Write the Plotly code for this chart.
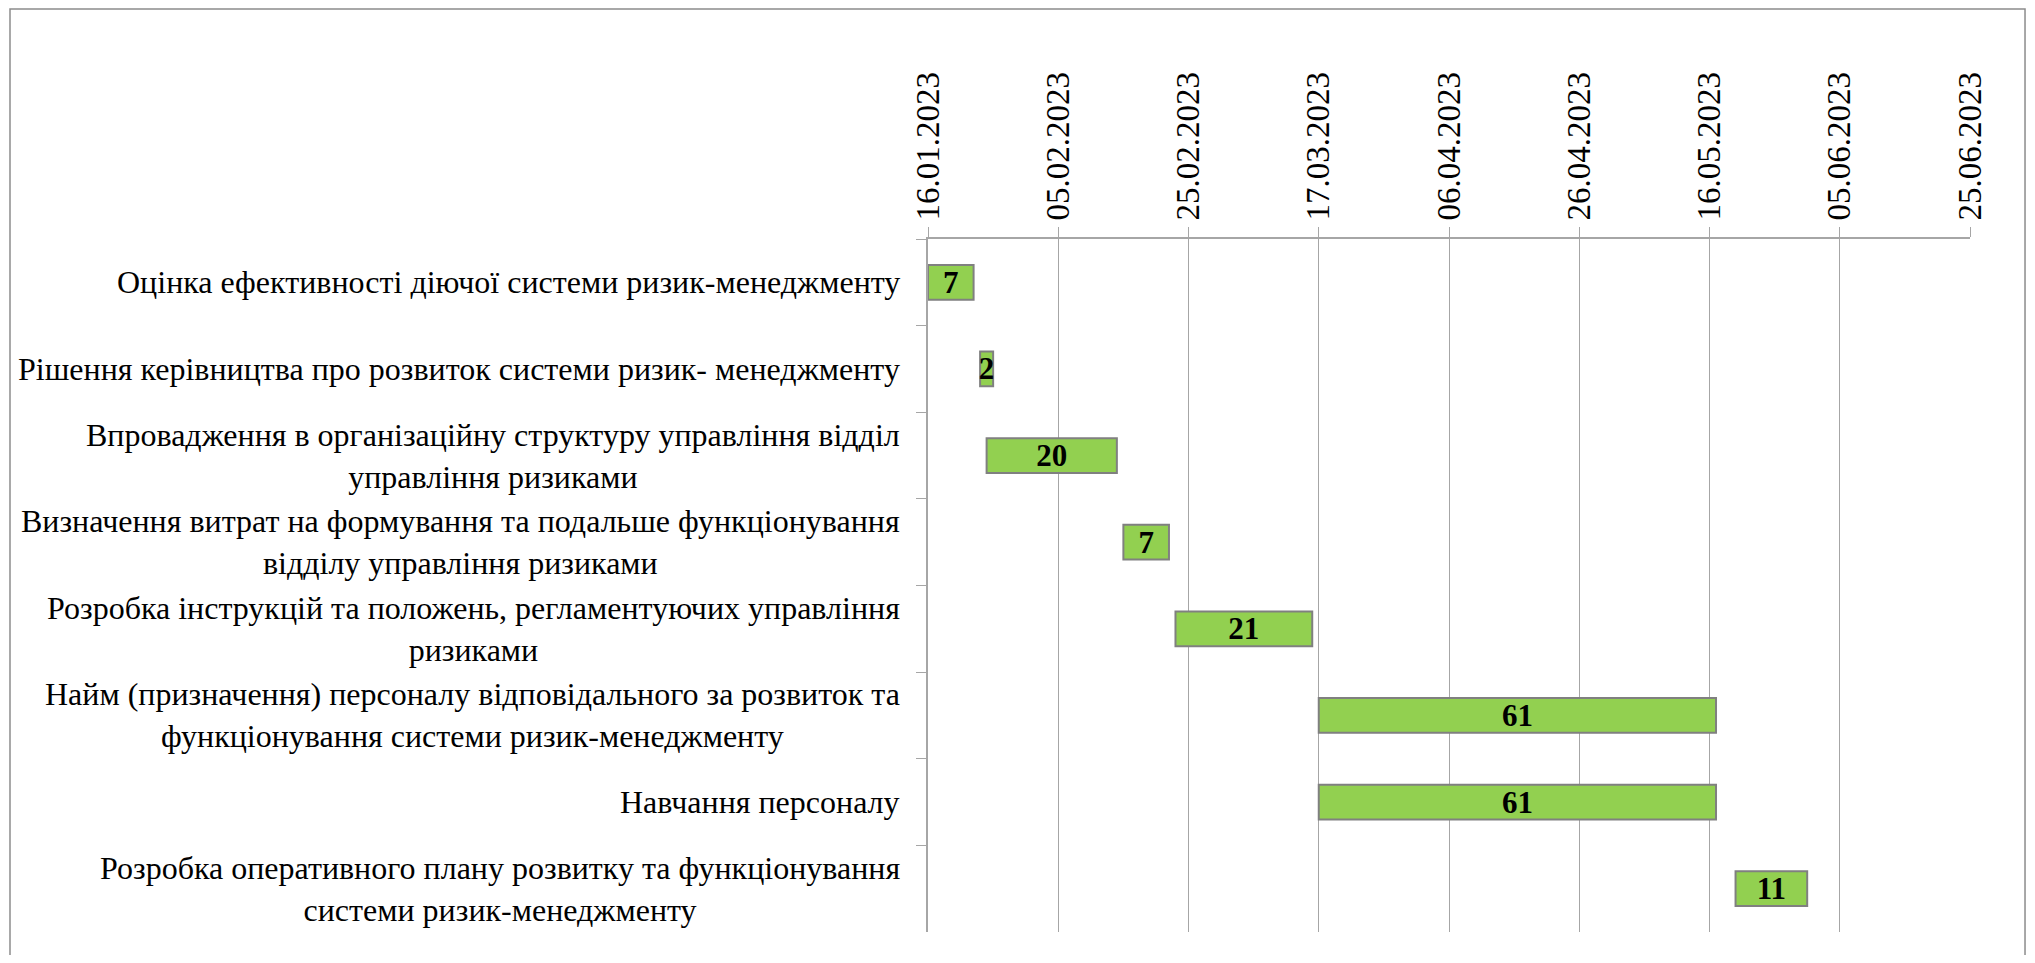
import plotly.graph_objects as go

tasks = [
    "Оцінка ефективності діючої системи ризик-менеджменту",
    "Рішення керівництва про розвиток системи ризик- менеджменту",
    "Впровадження в організаційну структуру управління відділ<br>управління ризиками",
    "Визначення витрат на формування та подальше функціонування<br>відділу управління ризиками",
    "Розробка інструкцій та положень, регламентуючих управління<br>ризиками",
    "Найм (призначення) персоналу відповідального за розвиток та<br>функціонування системи ризик-менеджменту",
    "Навчання персоналу",
    "Розробка оперативного плану розвитку та функціонування<br>системи ризик-менеджменту",
]
starts = ["2023-01-16", "2023-01-24", "2023-01-25", "2023-02-15",
          "2023-02-23", "2023-03-17", "2023-03-17", "2023-05-20"]
durations = [7, 2, 20, 7, 21, 61, 61, 11]
axis_start = "2023-01-16"
axis_end = "2023-06-25"
tick_step_days = 20

DAY_MS = 86400000
FONT = "Liberation Serif"

fig = go.Figure()
fig.add_trace(go.Bar(
    y=tasks,
    x=[d * DAY_MS for d in durations],
    base=starts,
    orientation="h",
    width=0.4,
    marker=dict(color="#92D050", line=dict(color="#808080", width=2)),
    text=[str(d) for d in durations],
    textposition="inside",
    insidetextanchor="middle",
    textangle=0,
    constraintext="none",
    textfont=dict(family=FONT, size=31, color="black", weight="bold"),
    hoverinfo="skip",
))

annotations = []
for t in tasks:
    annotations.append(dict(
        x=0, xref="paper", y=t, yref="y", xanchor="right", yanchor="middle",
        xshift=-26, text=t, showarrow=False, align="center",
        font=dict(family=FONT, size=32, color="black"),
    ))

fig.update_layout(
    width=2019, height=947,
    margin=dict(l=920, r=57, t=231, b=23),
    paper_bgcolor="white", plot_bgcolor="white",
    font=dict(family=FONT, color="black"),
    showlegend=False,
    annotations=annotations,
    shapes=[dict(type="rect", xref="paper", yref="paper",
                 x0=-0.881, x1=1.0528, y0=-0.2, y1=1.3319,
                 line=dict(color="#8c8c8c", width=1.5), layer="below")],
    xaxis=dict(
        type="date", side="top", range=[axis_start, axis_end],
        tick0=axis_start, dtick=tick_step_days * DAY_MS,
        tickformat="%d.%m.%Y", tickangle=-90,
        tickfont=dict(family=FONT, size=33, color="black"),
        showgrid=True, gridcolor="#a6a6a6", gridwidth=1,
        showline=True, linecolor="#a6a6a6", linewidth=2,
        ticks="outside", ticklen=10, tickcolor="#a6a6a6",
        zeroline=False,
    ),
    yaxis=dict(
        type="category", range=[len(tasks) - 0.5, -0.5],
        showticklabels=False, tickson="boundaries",
        ticks="outside", ticklen=10, tickcolor="#a6a6a6",
        showline=True, linecolor="#a6a6a6", linewidth=2,
        showgrid=False, zeroline=False,
    ),
)

fig.write_html("out.html")
